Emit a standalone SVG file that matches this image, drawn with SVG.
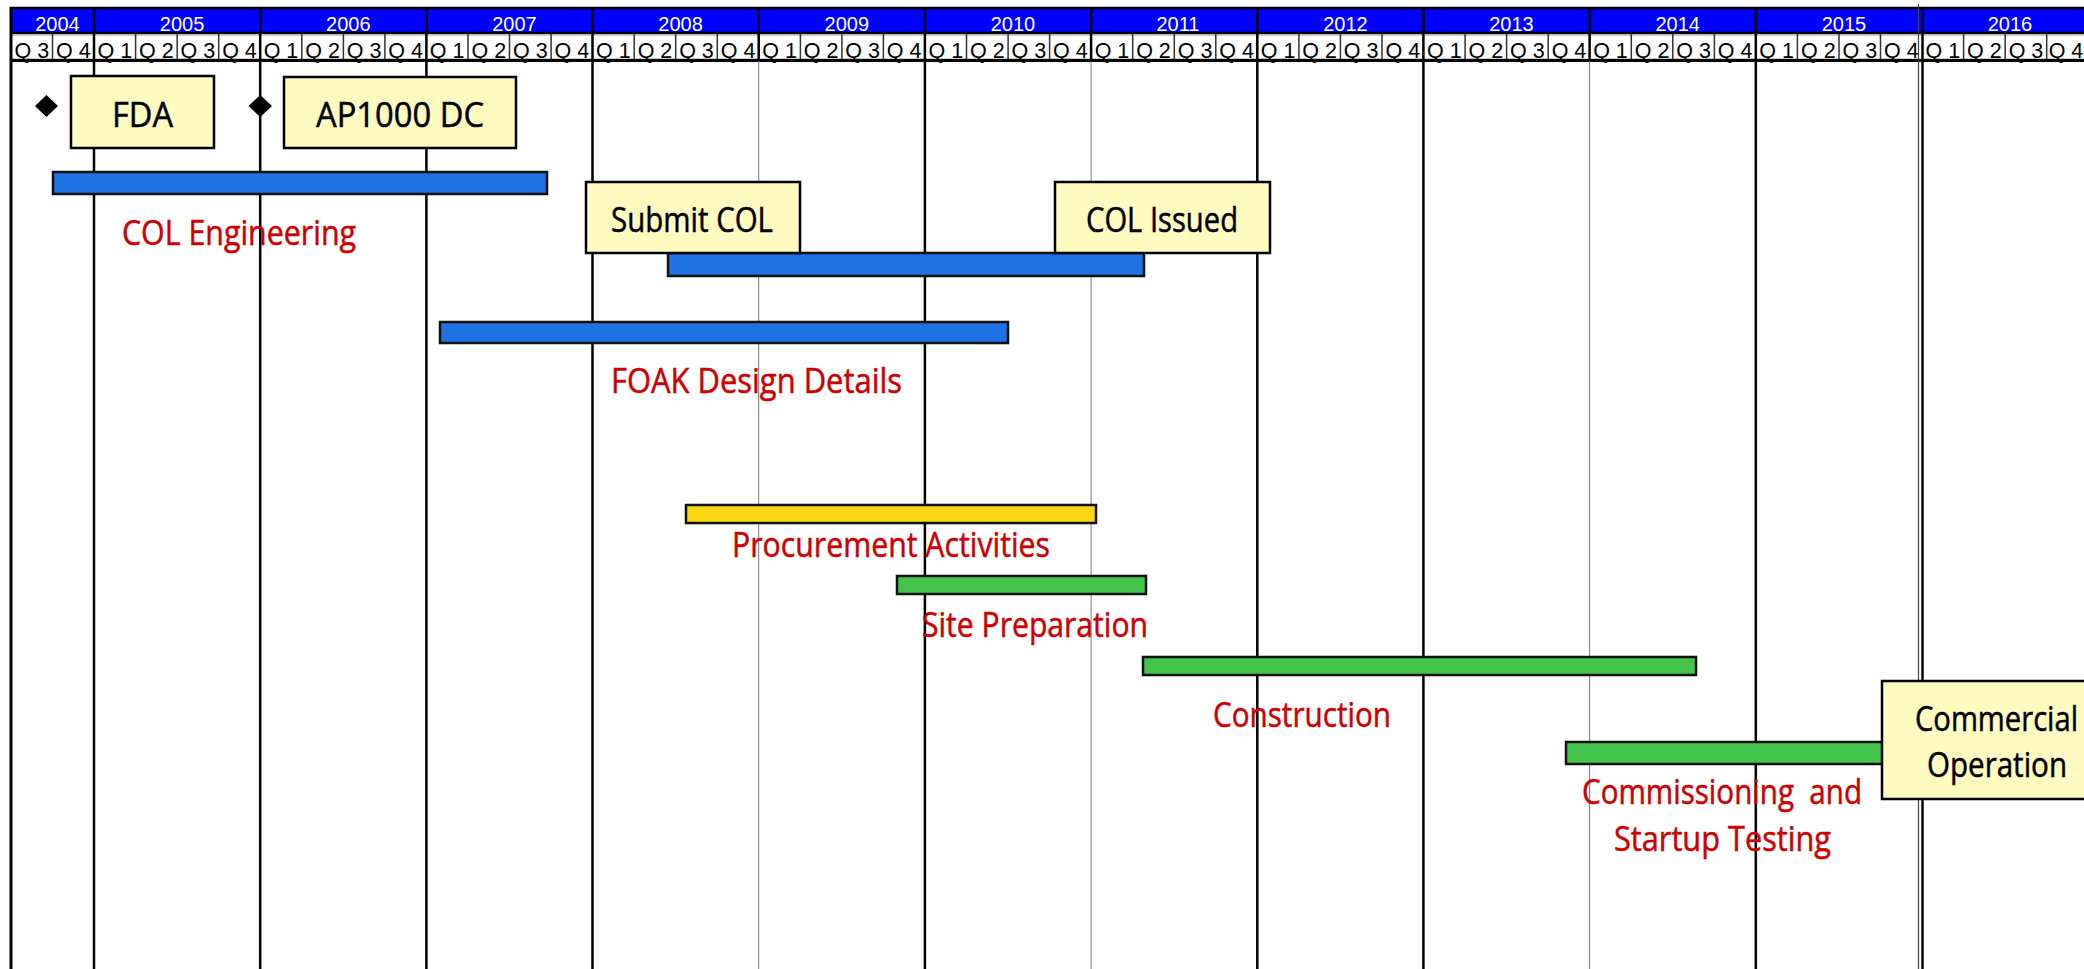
<svg xmlns="http://www.w3.org/2000/svg" width="2084" height="969" viewBox="0 0 2084 969">
<style>
.yr{font-family:"Liberation Sans",Arial,sans-serif;font-size:20px;fill:#fff;text-anchor:middle}
.q{font-family:"Liberation Sans",Arial,sans-serif;font-size:21.5px;fill:#000;text-anchor:middle}
.lbl{font-family:"Open Sans","Noto Sans",sans-serif;font-size:34px;fill:#cc0000;stroke:#cc0000;stroke-width:0.5}
.bt{font-family:"Open Sans","Noto Sans",sans-serif;font-size:34px;fill:#000;stroke:#000;stroke-width:0.5}
.box{fill:#fffabf;stroke:#000;stroke-width:2.5}
.blue{fill:#1f72e3;stroke:#111;stroke-width:2.5}
.green{fill:#43c44b;stroke:#111;stroke-width:2.5}
.gold{fill:#ffd814;stroke:#111;stroke-width:2.5}
.thick{stroke:#000;stroke-width:2.5;fill:none}
.thin{stroke:#777;stroke-width:1;fill:none}
.qsep{stroke:#333;stroke-width:1.5;fill:none}
</style>
<rect x="0" y="0" width="2084" height="969" fill="#fff"/>
<g id="grid">
<rect x="11" y="9" width="2073" height="24" fill="#0000ff"/>
<rect x="11" y="34" width="2073" height="26" fill="#fff"/>
<path stroke="#ccc" stroke-width="1" d="M11 35.5H2084M11 58.5H2084"/>
<path class="qsep" d="M52.5 34V60M135.6 34V60M177.2 34V60M218.7 34V60M301.8 34V60M343.4 34V60M384.9 34V60M468 34V60M509.5 34V60M551.1 34V60M634.2 34V60M675.7 34V60M717.3 34V60M800.4 34V60M841.9 34V60M883.4 34V60M966.5 34V60M1008.1 34V60M1049.6 34V60M1132.7 34V60M1174.3 34V60M1215.8 34V60M1298.9 34V60M1340.4 34V60M1382 34V60M1465.1 34V60M1506.6 34V60M1548.2 34V60M1631.3 34V60M1672.8 34V60M1714.4 34V60M1797.4 34V60M1839 34V60M1880.5 34V60M1963.6 34V60M2005.2 34V60M2046.7 34V60"/>
<path class="thick" d="M10 8H2084M10 33H2084"/>
<path stroke="#000" stroke-width="3" d="M10 60.5H2084"/>
<path stroke="#000" stroke-width="3" d="M11 7V969"/>
<path class="thick" d="M94 8V969M260.2 8V969M426.4 8V969M592.5 8V969M924.9 8V969M1257.3 8V969M1423.4 8V969M1755.8 8V969M1922.5 8V969"/>
<path class="thick" d="M758.7 8V61M1091.1 8V61M1589.6 8V61"/>
<path class="thin" d="M758.7 61V969M1091.1 61V969M1589.6 61V969"/>
<path stroke="#444" stroke-width="1.2" d="M1918.5 4V969"/>
<text class="yr" x="57.5" y="30.7">2004</text>
<text class="yr" x="182.1" y="30.7">2005</text>
<text class="yr" x="348.3" y="30.7">2006</text>
<text class="yr" x="514.5" y="30.7">2007</text>
<text class="yr" x="680.6" y="30.7">2008</text>
<text class="yr" x="846.8" y="30.7">2009</text>
<text class="yr" x="1013" y="30.7">2010</text>
<text class="yr" x="1178" y="30.7">2011</text>
<text class="yr" x="1345.4" y="30.7">2012</text>
<text class="yr" x="1511.5" y="30.7">2013</text>
<text class="yr" x="1677.7" y="30.7">2014</text>
<text class="yr" x="1843.9" y="30.7">2015</text>
<text class="yr" x="2010" y="30.7">2016</text>
<text class="q" x="31.8" y="57.5">Q 3</text>
<text class="q" x="73.3" y="57.5">Q 4</text>
<text class="q" x="114.8" y="57.5">Q 1</text>
<text class="q" x="156.4" y="57.5">Q 2</text>
<text class="q" x="197.9" y="57.5">Q 3</text>
<text class="q" x="239.5" y="57.5">Q 4</text>
<text class="q" x="281" y="57.5">Q 1</text>
<text class="q" x="322.6" y="57.5">Q 2</text>
<text class="q" x="364.1" y="57.5">Q 3</text>
<text class="q" x="405.7" y="57.5">Q 4</text>
<text class="q" x="447.2" y="57.5">Q 1</text>
<text class="q" x="488.8" y="57.5">Q 2</text>
<text class="q" x="530.3" y="57.5">Q 3</text>
<text class="q" x="571.9" y="57.5">Q 4</text>
<text class="q" x="613.4" y="57.5">Q 1</text>
<text class="q" x="655" y="57.5">Q 2</text>
<text class="q" x="696.5" y="57.5">Q 3</text>
<text class="q" x="738.1" y="57.5">Q 4</text>
<text class="q" x="779.6" y="57.5">Q 1</text>
<text class="q" x="821.2" y="57.5">Q 2</text>
<text class="q" x="862.7" y="57.5">Q 3</text>
<text class="q" x="904.2" y="57.5">Q 4</text>
<text class="q" x="945.8" y="57.5">Q 1</text>
<text class="q" x="987.3" y="57.5">Q 2</text>
<text class="q" x="1028.9" y="57.5">Q 3</text>
<text class="q" x="1070.4" y="57.5">Q 4</text>
<text class="q" x="1112" y="57.5">Q 1</text>
<text class="q" x="1153.5" y="57.5">Q 2</text>
<text class="q" x="1195.1" y="57.5">Q 3</text>
<text class="q" x="1236.6" y="57.5">Q 4</text>
<text class="q" x="1278.2" y="57.5">Q 1</text>
<text class="q" x="1319.7" y="57.5">Q 2</text>
<text class="q" x="1361.2" y="57.5">Q 3</text>
<text class="q" x="1402.8" y="57.5">Q 4</text>
<text class="q" x="1444.3" y="57.5">Q 1</text>
<text class="q" x="1485.9" y="57.5">Q 2</text>
<text class="q" x="1527.4" y="57.5">Q 3</text>
<text class="q" x="1569" y="57.5">Q 4</text>
<text class="q" x="1610.5" y="57.5">Q 1</text>
<text class="q" x="1652.1" y="57.5">Q 2</text>
<text class="q" x="1693.6" y="57.5">Q 3</text>
<text class="q" x="1735.2" y="57.5">Q 4</text>
<text class="q" x="1776.7" y="57.5">Q 1</text>
<text class="q" x="1818.3" y="57.5">Q 2</text>
<text class="q" x="1859.8" y="57.5">Q 3</text>
<text class="q" x="1901.4" y="57.5">Q 4</text>
<text class="q" x="1942.9" y="57.5">Q 1</text>
<text class="q" x="1984.4" y="57.5">Q 2</text>
<text class="q" x="2026" y="57.5">Q 3</text>
<text class="q" x="2066" y="57.5">Q 4</text>
</g>
<g id="connectors"></g>
<g id="bar-col-engineering">
<rect class="blue" x="53" y="172" width="494" height="22"/>
<text class="lbl" x="122" y="245" textLength="234" lengthAdjust="spacingAndGlyphs">COL Engineering</text>
</g>
<g id="bar-col-review">
<rect class="blue" x="668" y="253" width="476" height="23"/>
</g>
<g id="bar-foak">
<rect class="blue" x="440" y="322" width="568" height="21"/>
<text class="lbl" x="611" y="393" textLength="291" lengthAdjust="spacingAndGlyphs">FOAK Design Details</text>
</g>
<g id="bar-procurement">
<rect class="gold" x="686" y="505" width="410" height="18"/>
<text class="lbl" x="732" y="557" textLength="318" lengthAdjust="spacingAndGlyphs">Procurement Activities</text>
</g>
<g id="bar-site-prep">
<rect class="green" x="897" y="576" width="249" height="18"/>
<text class="lbl" x="922" y="637" textLength="226" lengthAdjust="spacingAndGlyphs">Site Preparation</text>
</g>
<g id="bar-construction">
<rect class="green" x="1143" y="657" width="553" height="18"/>
<text class="lbl" x="1213" y="727" textLength="178" lengthAdjust="spacingAndGlyphs">Construction</text>
</g>
<g id="bar-commissioning">
<rect class="green" x="1566" y="742" width="320" height="22"/>
<text class="lbl" x="1582" y="804" textLength="280" lengthAdjust="spacingAndGlyphs" style="white-space:pre">Commissioning  and</text>
<text class="lbl" x="1614" y="851" textLength="217" lengthAdjust="spacingAndGlyphs">Startup Testing</text>
</g>
<g id="milestone-fda">
<path d="M46.4 95L58 106L46.4 117L35 106Z" fill="#000"/>
<rect class="box" x="71" y="76" width="143" height="72"/>
<text class="bt" x="112" y="127" textLength="61" lengthAdjust="spacingAndGlyphs">FDA</text>
</g>
<g id="milestone-ap1000">
<path d="M260.2 95L272 106L260.2 117L248.5 106Z" fill="#000"/>
<rect class="box" x="284" y="77" width="232" height="71"/>
<text class="bt" x="316" y="127" textLength="168" lengthAdjust="spacingAndGlyphs">AP1000 DC</text>
</g>
<g id="milestone-submit-col">
<rect class="box" x="586" y="182" width="214" height="71"/>
<text class="bt" x="611" y="232" textLength="162" lengthAdjust="spacingAndGlyphs">Submit COL</text>
</g>
<g id="milestone-col-issued">
<rect class="box" x="1055" y="182" width="215" height="71"/>
<text class="bt" x="1086" y="232" textLength="152" lengthAdjust="spacingAndGlyphs">COL Issued</text>
</g>
<g id="milestone-commercial-operation">
<rect class="box" x="1882" y="681" width="210" height="118"/>
<text class="bt" x="1915" y="731" textLength="163" lengthAdjust="spacingAndGlyphs">Commercial</text>
<text class="bt" x="1927" y="777" textLength="140" lengthAdjust="spacingAndGlyphs">Operation</text>
</g>
</svg>
